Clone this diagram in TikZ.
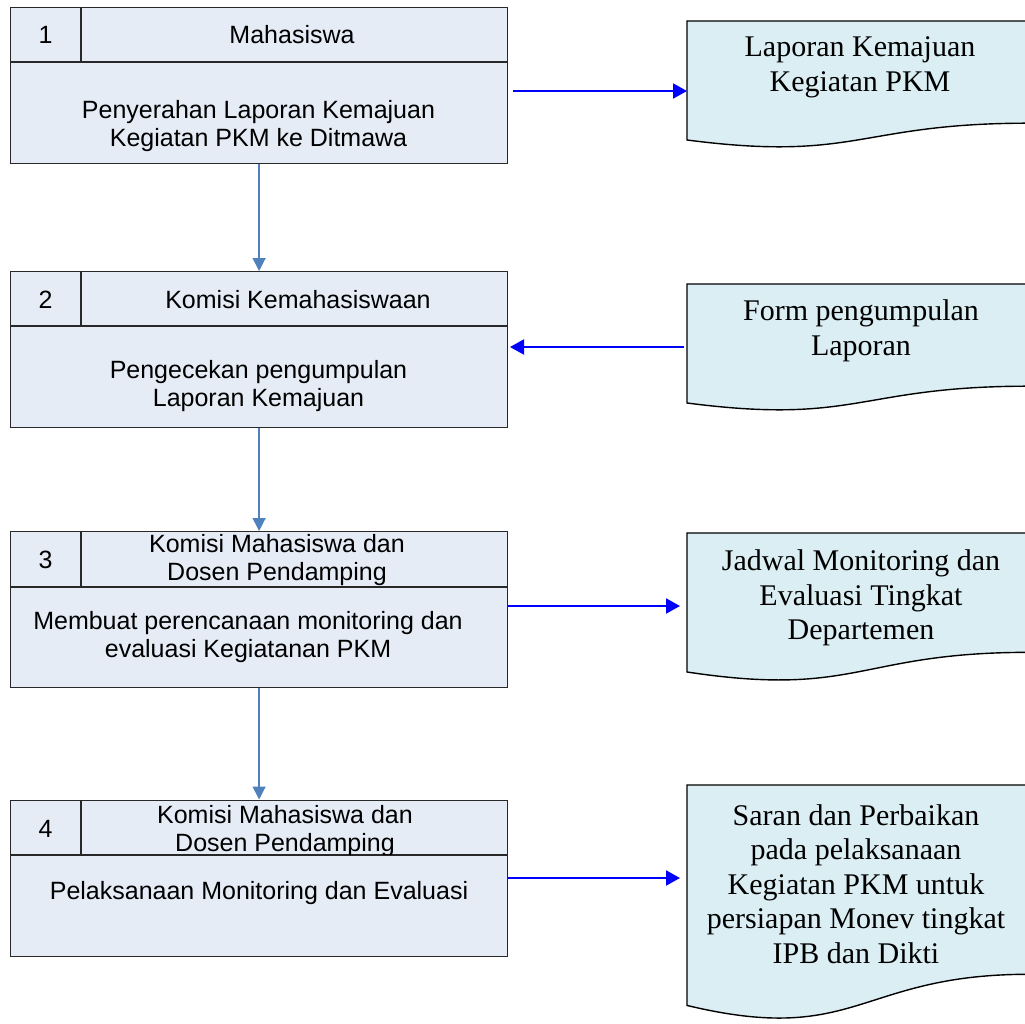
\documentclass[tikz,border=0pt]{standalone}
\usepackage{fontspec}
\setmainfont{Liberation Serif}
\setsansfont{Liberation Sans}
\usetikzlibrary{arrows.meta,calc}

\definecolor{procfill}{RGB}{230,236,246}
\definecolor{docfill}{RGB}{219,238,243}
\definecolor{edgegray}{RGB}{40,40,40}
\definecolor{downblue}{RGB}{79,129,189}
\definecolor{sideblue}{RGB}{0,0,255}

\tikzset{
  procbox/.style={draw=edgegray, fill=procfill, line width=1.2pt, rectangle,
    inner sep=0pt, anchor=north west, minimum width=497pt, minimum height=156pt},
  divider/.style={draw=edgegray, line width=1.2pt},
  sanstext/.style={font=\sffamily\fontsize{25}{28.5}\selectfont, align=center, inner sep=0pt},
  doctext/.style={font=\rmfamily\fontsize{30}{34.5}\selectfont, align=center, inner sep=0pt},
  docshape/.style={draw=black, fill=docfill, line width=1.4pt},
  down/.style={draw=downblue, line width=1.3pt, -{Triangle[length=13pt,width=13pt]}},
  side/.style={draw=sideblue, line width=2pt, -{Triangle[length=14pt,width=15pt]}},
}

% document symbol with a wavy lower edge: left x, top y, width, height
\newcommand\drawdocument[4]{%
  \draw[docshape] (#1,#2) -- ({#1+#3},#2) -- ({#1+#3},{#2+0.802*#4})
    .. controls ({#1+0.5*#3},{#2+0.802*#4}) and ({#1+0.5*#3},{#2+1.108*#4})
    .. (#1,{#2+0.934*#4}) -- cycle;}

\begin{document}
\begin{tikzpicture}[x=1pt,y=-1pt]
\useasboundingbox (0,0) rectangle (1025,1023);
\clip (0,0) rectangle (1025,1023);

% output documents on the right
\drawdocument{687}{21}{342}{127.4}
\drawdocument{687}{284}{342}{127.4}
\drawdocument{687}{533}{342}{148.8}
\drawdocument{687}{785}{342}{236}

\node[doctext] (d1) at (860,67.5) {Laporan Kemajuan\\Kegiatan PKM};
\node[doctext] (d2) at (861,331) {Form pengumpulan\\Laporan};
\node[doctext] (d3) at (861,598) {Jadwal Monitoring dan\\Evaluasi Tingkat\\Departemen};
\node[doctext] (d4) at (856,884) {Saran dan Perbaikan\\pada pelaksanaan\\Kegiatan PKM untuk\\persiapan Monev tingkat\\IPB dan Dikti};

% process steps on the left
\node[procbox] (b1) at (10,7) {};
\node[procbox] (b2) at (10,271) {};
\node[procbox] (b3) at (10,531) {};
\node[procbox] (b4) at (10,799.5) {};

% header rows and number columns
\foreach \top/\mid in {7/62, 271/326, 531/587, 799.5/855}{
  \draw[divider] (10,\mid) -- (507,\mid);
  \draw[divider] (81,\top) -- (81,\mid);
}

\node[sanstext] (n1) at (45.5,35) {1};
\node[sanstext] (h1) at (292,35) {Mahasiswa};
\node[sanstext] (t1) at (258.5,126) {Penyerahan Laporan Kemajuan\\Kegiatan PKM ke Ditmawa};

\node[sanstext] (n2) at (45.5,300) {2};
\node[sanstext] (h2) at (298,300) {Komisi Kemahasiswaan};
\node[sanstext] (t2) at (258.5,386) {Pengecekan pengumpulan\\Laporan Kemajuan};

\node[sanstext] (n3) at (45.5,560) {3};
\node[sanstext] (h3) at (277,560) {Komisi Mahasiswa dan\\Dosen Pendamping};
\node[sanstext] (t3) at (248,637) {Membuat perencanaan monitoring dan\\evaluasi Kegiatanan PKM};

\node[sanstext] (n4) at (45.5,829) {4};
\begin{scope}
  \clip (82,800) rectangle (506,854.4);
  \node[sanstext] (h4) at (285,831) {Komisi Mahasiswa dan\\Dosen Pendamping};
\end{scope}
\node[sanstext] (t4) at (259,893) {Pelaksanaan Monitoring dan Evaluasi};

% flow between steps
\draw[down] (b1.south) -- (b2.north);
\draw[down] (b2.south) -- (b3.north);
\draw[down] (b3.south) -- (b4.north);

% links to the documents
\coordinate (o1) at (513,91);  \coordinate (i1) at (687,91);
\coordinate (o2) at (684,347); \coordinate (i2) at (510,347);
\coordinate (o3) at (508,606); \coordinate (i3) at (680,606);
\coordinate (o4) at (508,878); \coordinate (i4) at (680,878);
\draw[side] (o1) -- (i1);
\draw[side] (o2) -- (i2);
\draw[side] (o3) -- (i3);
\draw[side] (o4) -- (i4);
\end{tikzpicture}
\end{document}
